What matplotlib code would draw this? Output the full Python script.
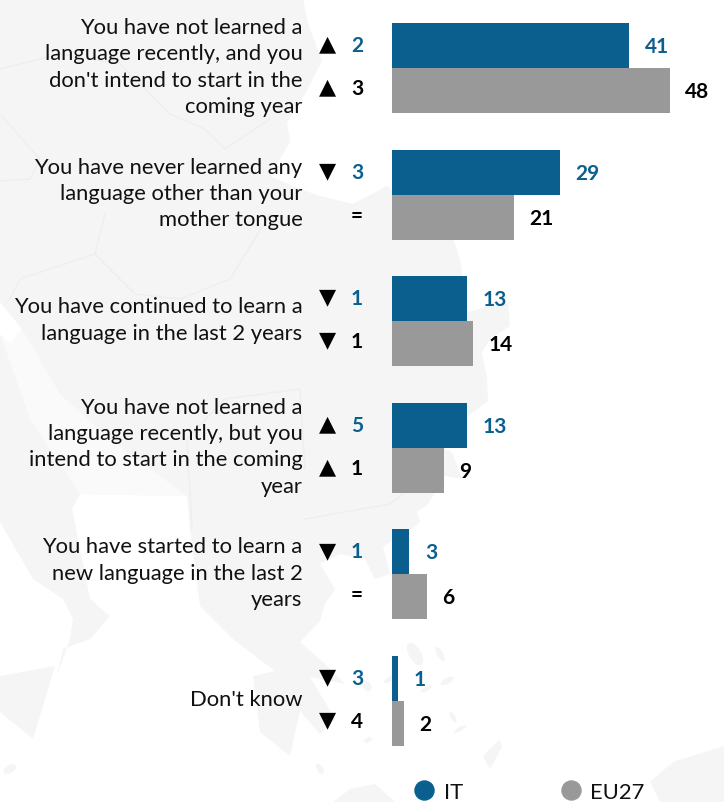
import matplotlib
matplotlib.use("Agg")
import matplotlib.pyplot as plt
from matplotlib.lines import Line2D
from matplotlib.patches import Polygon, Ellipse
from matplotlib.transforms import Affine2D, offset_copy

W, H = 724, 803
plt.rcParams['font.family'] = ['Lato', 'DejaVu Sans']

categories = [
    "You have not learned a\nlanguage recently, and you\ndon't intend to start in the\ncoming year",
    "You have never learned any\nlanguage other than your\nmother tongue",
    "You have continued to learn a\nlanguage in the last 2 years",
    "You have not learned a\nlanguage recently, but you\nintend to start in the coming\nyear",
    "You have started to learn a\nnew language in the last 2\nyears",
    "Don't know",
]
it_values = [41, 29, 13, 13, 3, 1]
eu_values = [48, 21, 14, 9, 6, 2]
it_delta = ["▲ 2", "▼ 3", "▼ 1", "▲ 5", "▼ 1", "▼ 3"]
eu_delta = ["▲ 3", "= ", "▼ 1", "▲ 1", "= ", "▼ 4"]
series_names = ["IT", "EU27"]

BLUE = "#0B5F8F"
GREY = "#999999"
INK = "#111111"
MAP = "#F5F5F5"
PALE = "#FAFAFA"
BORDER = "#EEEEEE"

fig = plt.figure(figsize=(W / 100, H / 100), dpi=100, facecolor="white")
ax = fig.add_axes([0, 0, 1, 1])
ax.set_axis_off()

# Scales: 5.79 px per percentage point, bar origin at pixel 392; 126.6 px per group
PX = 5.79
GROUP = 126.6
ax.set_xlim(-392 / PX, (W - 392) / PX)
ax.set_ylim((H - 69) / GROUP, -69 / GROUP)
bar_h = 45 / GROUP

# Decorative background map, in pixel coordinates
pix = Affine2D().scale(1, -1).translate(0, H)
mainland = [(0,0),(303,0),(308,25),(322,62),(305,95),(287,123),(290,143),(270,177),(300,190),(320,197),(353,205),
    (387,187),(420,215),(453,240),(460,260),(468,313),(480,310),(493,303),(508,305),(510,327),(490,340),(482,353),
    (487,380),(488,402),(468,417),(445,450),(452,453),(462,480),(445,477),(428,505),(417,513),(420,523),(412,530),
    (395,540),(383,548),(390,575),(375,580),(365,560),(340,555),(320,565),(335,590),(325,605),(320,622),(300,643),
    (325,665),(345,685),(310,678),(335,720),(320,735),(300,712),(290,757),(260,733),(253,677),(275,672),(233,640),
    (200,607),(190,530),(187,497),(80,495),(72,510),(90,600),(110,617),(90,640),(63,650),(57,677),(70,640),(73,620),
    (63,600),(33,580),(0,523)]
sicily = [(0,677),(55,667),(33,740),(0,713)]
crete = [(483,757),(500,740),(502,748),(490,770)]
cyprus = [(650,783),(673,763),(724,747),(724,803),(660,803)]
turkey_w = [(333,803),(350,790),(375,785),(395,803)]
for poly in (mainland, sicily, crete, cyprus, turkey_w):
    ax.add_patch(Polygon(poly, closed=True, fc=MAP, ec="none", transform=pix, zorder=0))
ax.add_patch(Polygon([(0,335),(30,420),(80,495),(187,497),(110,440),(60,395),(25,335),(0,305)],
                     closed=True, fc=PALE, ec="none", transform=pix, zorder=0.2))
ax.add_patch(Polygon([(0,303),(22,330),(10,345),(0,335)], closed=True, fc="white", ec="none",
                     transform=pix, zorder=0.3))
for cx, cy, w, h in [(415,655,12,25),(390,680,14,5),(367,687,8,12),(447,682,14,6),(426,690,12,4),
                     (453,718,5,12),(460,730,14,4),(368,741,8,5),(10,770,14,8),(320,770,6,12),(440,655,6,16)]:
    ax.add_patch(Ellipse((cx, cy), w, h, angle=-30, fc=MAP, ec="none", transform=pix, zorder=0))
for line in ([(0,70),(60,55),(120,65),(170,115),(205,130),(225,150),(270,120)],
             [(0,115),(40,160),(30,180),(0,182)],
             [(105,215),(95,255),(20,280),(10,300)],
             [(95,255),(135,295),(180,300),(230,280),(270,215)],
             [(192,530),(187,440),(225,400),(300,390),(305,470)],
             [(305,520),(390,505),(440,465)]):
    ax.add_line(Line2D(*zip(*line), color=BORDER, lw=1, transform=pix, zorder=0.5))

# Bars
ypos = list(range(len(categories)))
ax.barh([y - bar_h / 2 for y in ypos], it_values, height=bar_h, color=BLUE, zorder=2)
ax.barh([y + bar_h / 2 for y in ypos], eu_values, height=bar_h, color=GREY, zorder=2)

FS = 15.8
BOLD = 15
def px(dx, dy):
    return offset_copy(ax.transData, fig=fig, x=dx, y=-dy, units='dots')

x_lab = -(392 - 302.5) / PX
x_tri = -(392 - 328) / PX
x_del = -(392 - 357) / PX

for y, cat, iv, ev, id_, ed in zip(ypos, categories, it_values, eu_values, it_delta, eu_delta):
    ax.text(x_lab, y, cat, transform=px(0, -1.5), ha="right", va="center", fontsize=FS,
            color=INK, linespacing=1.4, multialignment="right")
    ax.text(iv, y, str(iv), transform=px(15.5, -22), ha="left", va="center", fontsize=BOLD,
            fontweight="bold", color=BLUE)
    ax.text(ev, y, str(ev), transform=px(15.5, 23), ha="left", va="center", fontsize=BOLD,
            fontweight="bold", color="black")
    for delta, col, dy in ((id_, BLUE, -23), (ed, "black", 20)):
        sym, num = delta.split(" ")
        if sym == "=":
            ax.text(x_del, y, "=", transform=px(0, dy), ha="center", va="center",
                    fontsize=BOLD, fontweight="bold", color="black")
        else:
            ax.text(x_tri, y, sym, transform=px(0, dy - 1.5), ha="center", va="center",
                    fontsize=16, family="DejaVu Sans", color="black")
            ax.text(x_del, y, num, transform=px(0, dy), ha="center", va="center",
                    fontsize=BOLD, fontweight="bold", color=col)

handles = [Line2D([], [], ls="none", marker="o", ms=13.7, color=c) for c in (BLUE, GREY)]
leg = ax.legend(handles, series_names, loc="center left", bbox_to_anchor=(0.556, 0.0125),
                ncols=2, frameon=False, fontsize=FS, labelcolor=INK,
                handletextpad=-0.11, columnspacing=3.9, borderpad=0, borderaxespad=0)

fig.savefig("out.png", dpi=100, facecolor="white")
